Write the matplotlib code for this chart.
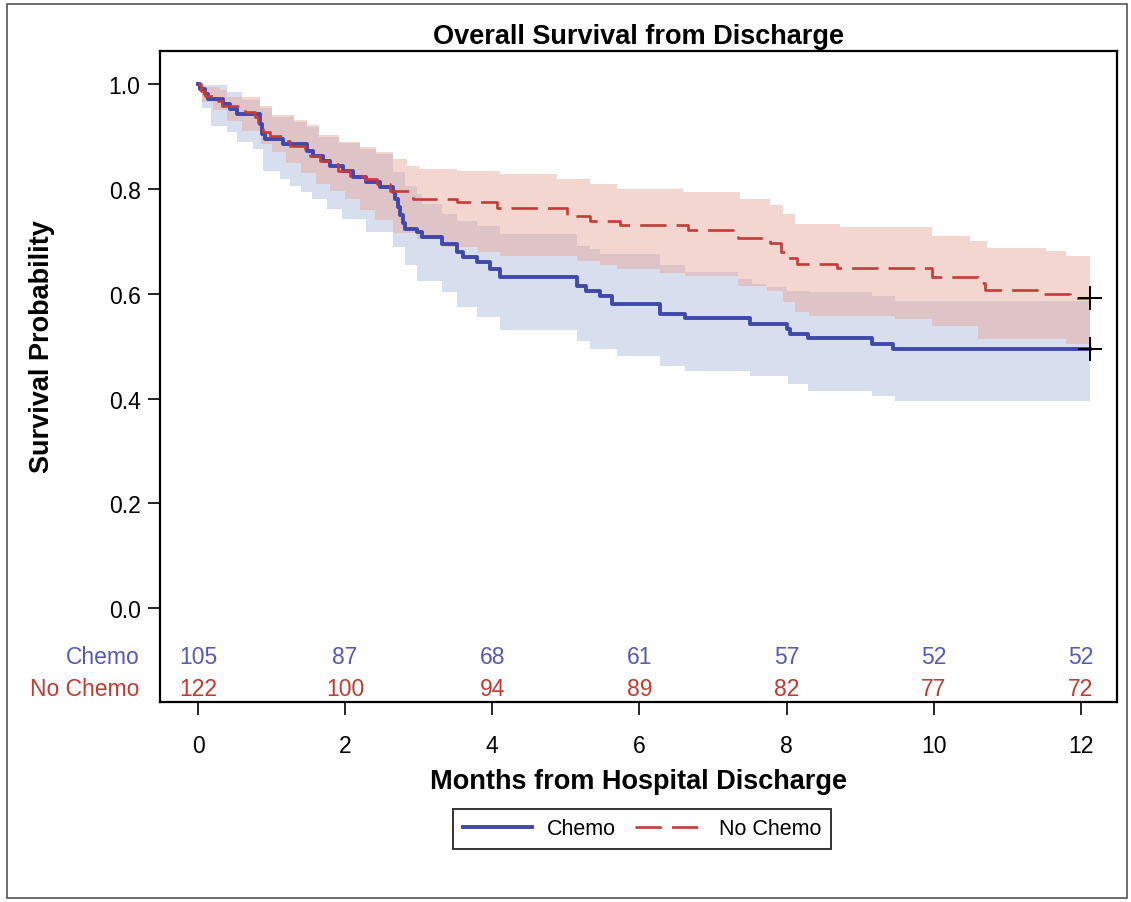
import numpy as np
import matplotlib
matplotlib.use("Agg")
import matplotlib.pyplot as plt
from matplotlib.patches import Rectangle

plt.rcParams["font.family"] = ["Liberation Sans", "DejaVu Sans"]

# Kaplan-Meier estimates (months, survival)
chemo_t = [0, 0.03, 0.10, 0.14, 0.34, 0.43, 0.53, 0.84, 0.87, 0.91, 1.16, 1.48, 1.56, 1.70,
           1.79, 1.97, 2.11, 2.29, 2.47, 2.65, 2.68, 2.72, 2.75, 2.78, 2.81, 2.97, 3.04, 3.31,
           3.52, 3.60, 3.79, 3.97, 4.10, 5.15, 5.28, 5.46, 5.63, 6.28, 6.62, 7.50, 8.00, 8.05,
           8.29, 9.16, 9.45]
chemo_s = [1.0, 0.990, 0.981, 0.972, 0.962, 0.953, 0.943, 0.924, 0.905, 0.895, 0.886, 0.872,
           0.863, 0.853, 0.844, 0.834, 0.822, 0.813, 0.803, 0.794, 0.780, 0.765, 0.750, 0.735,
           0.723, 0.718, 0.708, 0.695, 0.680, 0.670, 0.660, 0.647, 0.632, 0.615, 0.605, 0.595,
           0.580, 0.561, 0.553, 0.542, 0.532, 0.523, 0.515, 0.504, 0.494]

nochemo_t = [0, 0.04, 0.10, 0.27, 0.32, 0.64, 0.78, 0.82, 0.88, 0.98, 1.14, 1.25, 1.45, 1.52,
             1.66, 1.79, 1.90, 2.07, 2.27, 2.43, 2.61, 2.92, 3.52, 4.06, 5.01, 5.33, 5.73, 6.66,
             7.34, 7.77, 7.93, 8.00, 8.14, 8.68, 9.97, 10.60, 10.70, 11.50, 11.85]
nochemo_s = [1.0, 0.987, 0.977, 0.968, 0.958, 0.947, 0.937, 0.924, 0.908, 0.901, 0.891, 0.882,
             0.876, 0.863, 0.853, 0.847, 0.834, 0.824, 0.818, 0.809, 0.796, 0.781, 0.775, 0.763,
             0.748, 0.739, 0.731, 0.721, 0.706, 0.697, 0.680, 0.668, 0.656, 0.649, 0.632, 0.620,
             0.607, 0.599, 0.592]

last_t = 12.12  # censored at end of follow-up

# confidence bands
chemo_hi_t = [0, 0.05, 0.40, 0.60, 0.84, 1.0, 1.3, 1.48, 1.65, 1.92, 2.2, 2.42, 2.65, 2.81, 2.97,
              3.04, 3.31, 3.52, 3.79, 4.10, 5.15, 5.33, 5.46, 6.28, 6.62, 7.34, 7.53, 7.73, 8.0,
              8.3, 9.16, 9.47]
chemo_hi = [1.0, 0.998, 0.985, 0.97, 0.955, 0.937, 0.928, 0.918, 0.899, 0.887, 0.877, 0.866,
            0.832, 0.805, 0.79, 0.771, 0.752, 0.739, 0.729, 0.714, 0.691, 0.685, 0.675, 0.655,
            0.641, 0.628, 0.618, 0.612, 0.605, 0.603, 0.595, 0.586]
chemo_lo_t = [0, 0.05, 0.17, 0.40, 0.53, 0.75, 0.88, 1.11, 1.25, 1.40, 1.55, 1.75, 1.96, 2.29,
              2.65, 2.81, 2.97, 3.31, 3.52, 3.79, 4.10, 5.15, 5.33, 5.69, 6.28, 6.62, 7.50, 8.02,
              8.29, 9.16, 9.47]
chemo_lo = [1.0, 0.955, 0.92, 0.908, 0.889, 0.876, 0.835, 0.818, 0.805, 0.794, 0.781, 0.761,
            0.742, 0.718, 0.69, 0.655, 0.625, 0.603, 0.575, 0.555, 0.53, 0.51, 0.494, 0.481,
            0.462, 0.452, 0.443, 0.427, 0.414, 0.405, 0.395]

nochemo_hi_t = [0, 0.05, 0.30, 0.40, 0.84, 1.0, 1.3, 1.48, 1.65, 1.92, 2.2, 2.42, 2.65, 2.84,
                3.0, 3.52, 4.1, 4.88, 5.33, 5.69, 6.59, 7.36, 7.77, 7.95, 8.11, 8.72, 9.97,
                10.49, 10.73, 11.53, 11.8]
nochemo_hi = [1.0, 0.995, 0.988, 0.975, 0.958, 0.94, 0.931, 0.921, 0.902, 0.89, 0.88, 0.87,
              0.857, 0.844, 0.838, 0.834, 0.828, 0.819, 0.809, 0.80, 0.794, 0.781, 0.77, 0.752,
              0.733, 0.727, 0.71, 0.70, 0.687, 0.681, 0.672]
nochemo_lo_t = [0, 0.05, 0.2, 0.4, 0.6, 0.85, 1.0, 1.2, 1.4, 1.6, 1.8, 2.0, 2.2, 2.4, 2.65, 2.98,
                3.3, 3.8, 4.1, 5.15, 5.46, 5.69, 6.28, 6.62, 7.34, 7.73, 7.95, 8.11, 8.3, 9.47,
                9.97, 10.6, 11.8]
nochemo_lo = [1.0, 0.965, 0.95, 0.93, 0.91, 0.885, 0.87, 0.85, 0.83, 0.81, 0.795, 0.78, 0.76,
              0.74, 0.715, 0.705, 0.69, 0.68, 0.672, 0.662, 0.655, 0.647, 0.64, 0.634, 0.615,
              0.605, 0.584, 0.565, 0.557, 0.552, 0.538, 0.513, 0.504]

# number at risk
risk_times = [0, 2, 4, 6, 8, 10, 12]
chemo_risk = [105, 87, 68, 61, 57, 52, 52]
nochemo_risk = [122, 100, 94, 89, 82, 77, 72]

BLUE = "#4148ab"
RED = "#c43b37"
BLUE_TXT = "#5559b8"
RED_TXT = "#c23a30"


def step_at(t, v, grid):
    idx = np.searchsorted(np.asarray(t), grid, side="right") - 1
    return np.asarray(v)[idx]


def band(hi_t, hi, lo_t, lo):
    grid = np.unique(np.concatenate([hi_t, lo_t, [last_t]]))
    return grid, step_at(lo_t, lo, grid), step_at(hi_t, hi, grid)


fig = plt.figure(figsize=(11.31, 9.03), dpi=100)
ax = fig.add_axes([0.1415, 0.2215, 0.8461, 0.7209])

g, lo, hi = band(chemo_hi_t, chemo_hi, chemo_lo_t, chemo_lo)
ax.fill_between(g, lo, hi, step="post", color="#d7dfee", lw=0)
g, lo, hi = band(nochemo_hi_t, nochemo_hi, nochemo_lo_t, nochemo_lo)
ax.fill_between(g, lo, hi, step="post", color="#e7a497", alpha=0.45, lw=0)

l1, = ax.step(chemo_t + [last_t], chemo_s + [chemo_s[-1]], where="post",
              color=BLUE, lw=2.8, label="Chemo")
l2, = ax.step(nochemo_t + [last_t], nochemo_s + [nochemo_s[-1]], where="post",
              color=RED, lw=1.9, dashes=(10, 3.8), label="No Chemo")
ax.plot([last_t, last_t], [chemo_s[-1], nochemo_s[-1]], ls="none", marker="+",
        ms=17, mew=1.4, color="black")

# at-risk table inside the plot area
for x, a, b in zip(risk_times, chemo_risk, nochemo_risk):
    ax.text(x, -0.092, str(a), color=BLUE_TXT, fontsize=16.5, ha="center", va="center")
    ax.text(x, -0.153, str(b), color=RED_TXT, fontsize=16.5, ha="center", va="center")
ax.text(-0.8, -0.092, "Chemo", color=BLUE_TXT, fontsize=16.5, ha="right", va="center")
ax.text(-0.8, -0.153, "No Chemo", color=RED_TXT, fontsize=16.5, ha="right", va="center")

ax.set_xlim(-0.516, 12.49)
ax.set_ylim(-0.179, 1.063)
ax.set_xticks(risk_times)
ax.set_yticks([0.0, 0.2, 0.4, 0.6, 0.8, 1.0])
ax.set_yticklabels(["0.0", "0.2", "0.4", "0.6", "0.8", "1.0"])
ax.tick_params(axis="both", direction="out", length=9, width=1.2, labelsize=16.5)
ax.tick_params(axis="x", pad=14)
ax.tick_params(axis="y", pad=5)
for sp in ax.spines.values():
    sp.set_linewidth(1.6)

ax.set_title("Overall Survival from Discharge", fontsize=19.5, fontweight="bold", pad=6)
ax.set_xlabel("Months from Hospital Discharge", fontsize=19.5, fontweight="bold", labelpad=8)
ax.set_ylabel("Survival Probability", fontsize=19.5, fontweight="bold")
ax.yaxis.set_label_coords(-0.110, 0.547)

leg = ax.legend(handles=[l1, l2], loc="center", bbox_to_anchor=(0.504, -0.195), ncol=2,
                fontsize=15.5, frameon=True, fancybox=False, edgecolor="black",
                handlelength=3.2, handletextpad=0.7, columnspacing=0.9, borderpad=0.45)
leg.get_frame().set_linewidth(1.4)

fig.add_artist(Rectangle((0.0062, 0.0044), 0.990, 0.990, transform=fig.transFigure,
                         fill=False, ec="#555555", lw=1.2))

fig.savefig("out.png", dpi=100)
